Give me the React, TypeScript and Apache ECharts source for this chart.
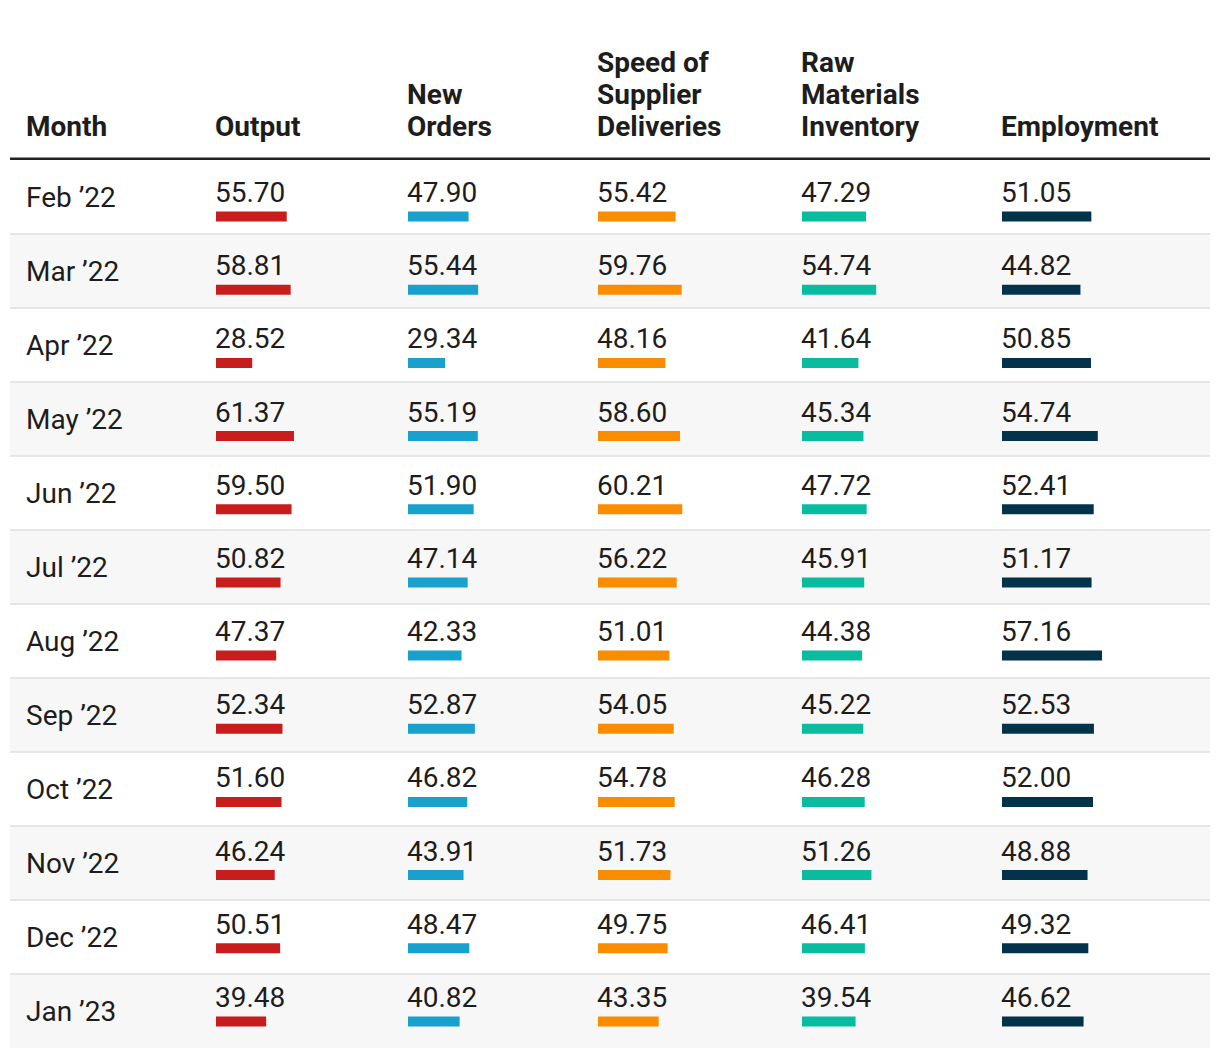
import React, { useEffect, useRef } from "react";
import * as echarts from "echarts";

const months = ["Feb ’22", "Mar ’22", "Apr ’22", "May ’22", "Jun ’22", "Jul ’22", "Aug ’22", "Sep ’22", "Oct ’22", "Nov ’22", "Dec ’22", "Jan ’23"];
const output = [55.70, 58.81, 28.52, 61.37, 59.50, 50.82, 47.37, 52.34, 51.60, 46.24, 50.51, 39.48];
const newOrders = [47.90, 55.44, 29.34, 55.19, 51.90, 47.14, 42.33, 52.87, 46.82, 43.91, 48.47, 40.82];
const speedOfDeliveries = [55.42, 59.76, 48.16, 58.60, 60.21, 56.22, 51.01, 54.05, 54.78, 51.73, 49.75, 43.35];
const rawMaterials = [47.29, 54.74, 41.64, 45.34, 47.72, 45.91, 44.38, 45.22, 46.28, 51.26, 46.41, 39.54];
const employment = [51.05, 44.82, 50.85, 54.74, 52.41, 51.17, 57.16, 52.53, 52.00, 48.88, 49.32, 46.62];

const headers = ["Output", "New\nOrders", "Speed of\nSupplier\nDeliveries", "Raw\nMaterials\nInventory", "Employment"];
const seriesData = [output, newOrders, speedOfDeliveries, rawMaterials, employment];
const colors = ["#c71e1d", "#18a1cd", "#fa8c00", "#09bb9f", "#03324b"];
const colX = [216, 408, 598, 802, 1002];
const pxPerUnit = [1.27, 1.265, 1.4, 1.355, 1.75];

const FONT = "Roboto, 'Noto Sans', sans-serif";
const TEXT = "#1d1d1d";

export default function App() {
  const ref = useRef<HTMLDivElement>(null);
  useEffect(() => {
    if (!ref.current) return;
    const chart = echarts.init(ref.current, undefined, { renderer: "svg" });
    const TOP = 160;
    const H = 888;
    const GW = 180;

    const grids: any[] = [{ left: 10, top: TOP, width: 1200, height: H }];
    const xAxes: any[] = [{ gridIndex: 0, type: "value", show: false, min: 0, max: 1 }];
    const yAxes: any[] = [
      {
        gridIndex: 0,
        type: "category",
        data: months,
        inverse: true,
        axisLine: { show: false },
        axisTick: { show: false },
        axisLabel: {
          inside: true,
          margin: 16,
          align: "left",
          fontSize: 28,
          fontFamily: FONT,
          color: TEXT,
          padding: [21, 0, 0, 0],
        },
        splitArea: { show: true, areaStyle: { color: ["#ffffff", "#f7f7f7"] } },
        splitLine: { show: true, showMinLine: false, showMaxLine: false, lineStyle: { color: "#e6e6e6", width: 2 } },
        z: 0,
      },
    ];
    const series: any[] = [];
    seriesData.forEach((d, i) => {
      const gi = i + 1;
      grids.push({ left: colX[i], top: TOP + 20, width: GW, height: H });
      xAxes.push({ gridIndex: gi, type: "value", show: false, min: 0, max: GW / pxPerUnit[i] });
      yAxes.push({ gridIndex: gi, type: "category", data: months, inverse: true, show: false });
      series.push({
        type: "bar",
        xAxisIndex: gi,
        yAxisIndex: gi,
        data: d,
        barWidth: 10,
        silent: true,
        itemStyle: { color: colors[i] },
        label: {
          show: true,
          position: [-1, -19],
          align: "left",
          verticalAlign: "middle",
          fontSize: 28,
          fontFamily: FONT,
          color: TEXT,
          formatter: (p: any) => Number(p.value).toFixed(2),
        },
      });
    });

    const graphic: any[] = [
      {
        type: "text",
        x: 26,
        y: 142,
        style: { text: "Month", font: `bold 28px ${FONT}`, fill: TEXT, verticalAlign: "bottom", align: "left", lineHeight: 32 },
      },
      ...headers.map((h, i) => ({
        type: "text",
        x: colX[i] - 1,
        y: 142,
        style: { text: h, font: `bold 28px ${FONT}`, fill: TEXT, verticalAlign: "bottom", align: "left", lineHeight: 32 },
      })),
      { type: "rect", shape: { x: 10, y: 157.5, width: 1200, height: 3.5 }, style: { fill: "#222222" } },
    ];

    chart.setOption({
      animation: false,
      backgroundColor: "#ffffff",
      grid: grids,
      xAxis: xAxes,
      yAxis: yAxes,
      series,
      graphic,
    });
    return () => chart.dispose();
  }, []);
  return <div ref={ref} style={{ position: "fixed", left: 0, top: 0, width: 1220, height: 1058 }} />;
}
